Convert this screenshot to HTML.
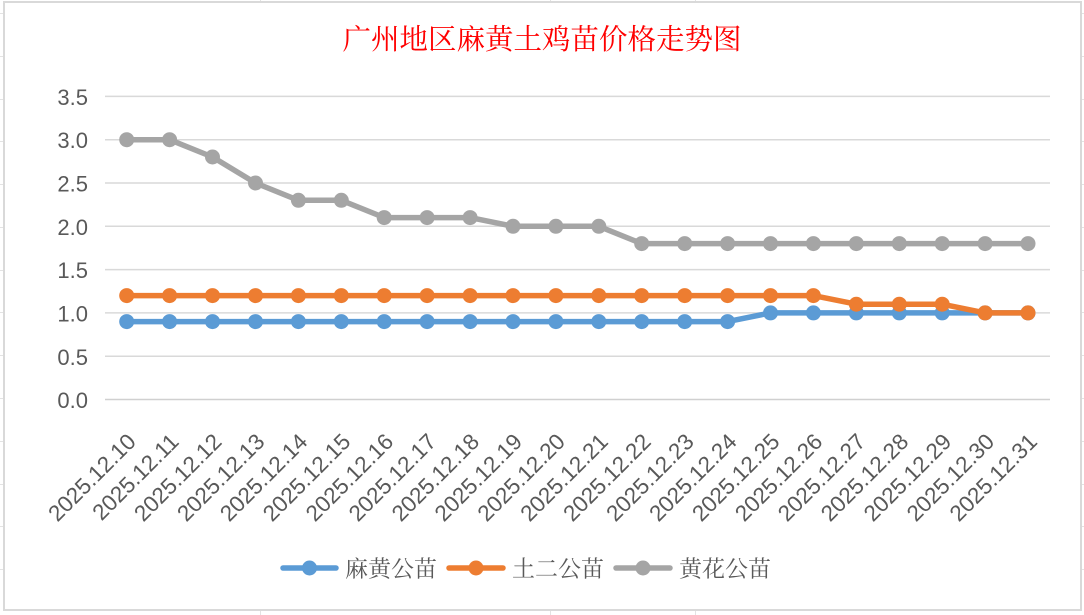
<!DOCTYPE html>
<html>
<head>
<meta charset="utf-8">
<style>
html,body{margin:0;padding:0;background:#fff;}
svg{display:block;}
</style>
</head>
<body>
<svg width="1084" height="615" viewBox="0 0 1084 615" xmlns="http://www.w3.org/2000/svg">
  <rect x="0" y="0" width="1084" height="615" fill="#ffffff"/>
  <!-- spreadsheet gridlines peeking around chart -->
  <g stroke="#e3e3e3" stroke-width="1">
    <line x1="0" y1="13.5" x2="1084" y2="13.5"/>
    <line x1="0" y1="56.5" x2="1084" y2="56.5"/>
    <line x1="0" y1="99.5" x2="1084" y2="99.5"/>
    <line x1="0" y1="141.5" x2="1084" y2="141.5"/>
    <line x1="0" y1="184.5" x2="1084" y2="184.5"/>
    <line x1="0" y1="227.5" x2="1084" y2="227.5"/>
    <line x1="0" y1="270.5" x2="1084" y2="270.5"/>
    <line x1="0" y1="312.5" x2="1084" y2="312.5"/>
    <line x1="0" y1="355.5" x2="1084" y2="355.5"/>
    <line x1="0" y1="398.5" x2="1084" y2="398.5"/>
    <line x1="0" y1="441.5" x2="1084" y2="441.5"/>
    <line x1="0" y1="484.5" x2="1084" y2="484.5"/>
    <line x1="0" y1="526.5" x2="1084" y2="526.5"/>
    <line x1="0" y1="569.5" x2="1084" y2="569.5"/>
    <line x1="260.5" y1="0" x2="260.5" y2="615"/>
    <line x1="550.5" y1="0" x2="550.5" y2="615"/>
    <line x1="695.5" y1="0" x2="695.5" y2="615"/>
  </g>
  <!-- chart area -->
  <rect x="4" y="2" width="1077" height="608" fill="#ffffff" stroke="#d9d9d9" stroke-width="2"/>

  <!-- title -->
  <text x="542" y="49" text-anchor="middle" font-family="'Liberation Serif','Noto Serif CJK SC',serif" font-size="28.5" fill="#ff0000">广州地区麻黄土鸡苗价格走势图</text>

  <!-- gridlines -->
  <g stroke="#d9d9d9" stroke-width="1.5">
    <line x1="105" y1="96.4" x2="1050" y2="96.4"/>
    <line x1="105" y1="139.7" x2="1050" y2="139.7"/>
    <line x1="105" y1="183.0" x2="1050" y2="183.0"/>
    <line x1="105" y1="226.3" x2="1050" y2="226.3"/>
    <line x1="105" y1="269.6" x2="1050" y2="269.6"/>
    <line x1="105" y1="312.9" x2="1050" y2="312.9"/>
    <line x1="105" y1="356.2" x2="1050" y2="356.2"/>
    <line x1="105" y1="399.5" x2="1050" y2="399.5" stroke="#d0d0d0"/>
  </g>

  <!-- y labels -->
  <g font-family="'Liberation Sans',sans-serif" font-size="22" fill="#595959" text-anchor="end">
    <text x="88" y="105">3.5</text>
    <text x="88" y="148">3.0</text>
    <text x="88" y="191.5">2.5</text>
    <text x="88" y="235">2.0</text>
    <text x="88" y="278">1.5</text>
    <text x="88" y="321.5">1.0</text>
    <text x="88" y="365">0.5</text>
    <text x="88" y="408">0.0</text>
  </g>

  <!-- x labels -->
  <g font-family="'Liberation Sans',sans-serif" font-size="22.5" fill="#595959" text-anchor="end">
    <text transform="translate(137.2,443) rotate(-45)">2025.12.10</text>
    <text transform="translate(180.1,443) rotate(-45)">2025.12.11</text>
    <text transform="translate(223.0,443) rotate(-45)">2025.12.12</text>
    <text transform="translate(266.0,443) rotate(-45)">2025.12.13</text>
    <text transform="translate(308.9,443) rotate(-45)">2025.12.14</text>
    <text transform="translate(351.8,443) rotate(-45)">2025.12.15</text>
    <text transform="translate(394.7,443) rotate(-45)">2025.12.16</text>
    <text transform="translate(437.6,443) rotate(-45)">2025.12.17</text>
    <text transform="translate(480.6,443) rotate(-45)">2025.12.18</text>
    <text transform="translate(523.5,443) rotate(-45)">2025.12.19</text>
    <text transform="translate(566.4,443) rotate(-45)">2025.12.20</text>
    <text transform="translate(609.3,443) rotate(-45)">2025.12.21</text>
    <text transform="translate(652.2,443) rotate(-45)">2025.12.22</text>
    <text transform="translate(695.2,443) rotate(-45)">2025.12.23</text>
    <text transform="translate(738.1,443) rotate(-45)">2025.12.24</text>
    <text transform="translate(781.0,443) rotate(-45)">2025.12.25</text>
    <text transform="translate(823.9,443) rotate(-45)">2025.12.26</text>
    <text transform="translate(866.8,443) rotate(-45)">2025.12.27</text>
    <text transform="translate(909.8,443) rotate(-45)">2025.12.28</text>
    <text transform="translate(952.7,443) rotate(-45)">2025.12.29</text>
    <text transform="translate(995.6,443) rotate(-45)">2025.12.30</text>
    <text transform="translate(1038.5,443) rotate(-45)">2025.12.31</text>
  </g>

  <!-- series: 麻黄公苗 (blue) -->
  <g>
    <polyline fill="none" stroke="#5b9bd5" stroke-width="5.5" stroke-linejoin="round" stroke-linecap="round"
      points="126.7,321.6 169.6,321.6 212.5,321.6 255.5,321.6 298.4,321.6 341.3,321.6 384.2,321.6 427.1,321.6 470.1,321.6 513.0,321.6 555.9,321.6 598.8,321.6 641.7,321.6 684.7,321.6 727.6,321.6 770.5,312.9 813.4,312.9 856.3,312.9 899.3,312.9 942.2,312.9 985.1,312.9 1028.0,312.9"/>
    <g fill="#5b9bd5">
      <circle cx="126.7" cy="321.6" r="7.5"/><circle cx="169.6" cy="321.6" r="7.5"/><circle cx="212.5" cy="321.6" r="7.5"/>
      <circle cx="255.5" cy="321.6" r="7.5"/><circle cx="298.4" cy="321.6" r="7.5"/><circle cx="341.3" cy="321.6" r="7.5"/>
      <circle cx="384.2" cy="321.6" r="7.5"/><circle cx="427.1" cy="321.6" r="7.5"/><circle cx="470.1" cy="321.6" r="7.5"/>
      <circle cx="513.0" cy="321.6" r="7.5"/><circle cx="555.9" cy="321.6" r="7.5"/><circle cx="598.8" cy="321.6" r="7.5"/>
      <circle cx="641.7" cy="321.6" r="7.5"/><circle cx="684.7" cy="321.6" r="7.5"/><circle cx="727.6" cy="321.6" r="7.5"/>
      <circle cx="770.5" cy="312.9" r="7.5"/><circle cx="813.4" cy="312.9" r="7.5"/><circle cx="856.3" cy="312.9" r="7.5"/>
      <circle cx="899.3" cy="312.9" r="7.5"/><circle cx="942.2" cy="312.9" r="7.5"/><circle cx="985.1" cy="312.9" r="7.5"/>
      <circle cx="1028.0" cy="312.9" r="7.5"/>
    </g>
  </g>

  <!-- series: 土二公苗 (orange) -->
  <g>
    <polyline fill="none" stroke="#ed7d31" stroke-width="5.5" stroke-linejoin="round" stroke-linecap="round"
      points="126.7,295.6 169.6,295.6 212.5,295.6 255.5,295.6 298.4,295.6 341.3,295.6 384.2,295.6 427.1,295.6 470.1,295.6 513.0,295.6 555.9,295.6 598.8,295.6 641.7,295.6 684.7,295.6 727.6,295.6 770.5,295.6 813.4,295.6 856.3,304.2 899.3,304.2 942.2,304.2 985.1,312.9 1028.0,312.9"/>
    <g fill="#ed7d31">
      <circle cx="126.7" cy="295.6" r="7.5"/><circle cx="169.6" cy="295.6" r="7.5"/><circle cx="212.5" cy="295.6" r="7.5"/>
      <circle cx="255.5" cy="295.6" r="7.5"/><circle cx="298.4" cy="295.6" r="7.5"/><circle cx="341.3" cy="295.6" r="7.5"/>
      <circle cx="384.2" cy="295.6" r="7.5"/><circle cx="427.1" cy="295.6" r="7.5"/><circle cx="470.1" cy="295.6" r="7.5"/>
      <circle cx="513.0" cy="295.6" r="7.5"/><circle cx="555.9" cy="295.6" r="7.5"/><circle cx="598.8" cy="295.6" r="7.5"/>
      <circle cx="641.7" cy="295.6" r="7.5"/><circle cx="684.7" cy="295.6" r="7.5"/><circle cx="727.6" cy="295.6" r="7.5"/>
      <circle cx="770.5" cy="295.6" r="7.5"/><circle cx="813.4" cy="295.6" r="7.5"/><circle cx="856.3" cy="304.2" r="7.5"/>
      <circle cx="899.3" cy="304.2" r="7.5"/><circle cx="942.2" cy="304.2" r="7.5"/><circle cx="985.1" cy="312.9" r="7.5"/>
      <circle cx="1028.0" cy="312.9" r="7.5"/>
    </g>
  </g>

  <!-- series: 黄花公苗 (gray) -->
  <g>
    <polyline fill="none" stroke="#a5a5a5" stroke-width="5.5" stroke-linejoin="round" stroke-linecap="round"
      points="126.7,139.7 169.6,139.7 212.5,157.0 255.5,183.0 298.4,200.3 341.3,200.3 384.2,217.6 427.1,217.6 470.1,217.6 513.0,226.3 555.9,226.3 598.8,226.3 641.7,243.6 684.7,243.6 727.6,243.6 770.5,243.6 813.4,243.6 856.3,243.6 899.3,243.6 942.2,243.6 985.1,243.6 1028.0,243.6"/>
    <g fill="#a5a5a5">
      <circle cx="126.7" cy="139.7" r="7.5"/><circle cx="169.6" cy="139.7" r="7.5"/><circle cx="212.5" cy="157.0" r="7.5"/>
      <circle cx="255.5" cy="183.0" r="7.5"/><circle cx="298.4" cy="200.3" r="7.5"/><circle cx="341.3" cy="200.3" r="7.5"/>
      <circle cx="384.2" cy="217.6" r="7.5"/><circle cx="427.1" cy="217.6" r="7.5"/><circle cx="470.1" cy="217.6" r="7.5"/>
      <circle cx="513.0" cy="226.3" r="7.5"/><circle cx="555.9" cy="226.3" r="7.5"/><circle cx="598.8" cy="226.3" r="7.5"/>
      <circle cx="641.7" cy="243.6" r="7.5"/><circle cx="684.7" cy="243.6" r="7.5"/><circle cx="727.6" cy="243.6" r="7.5"/>
      <circle cx="770.5" cy="243.6" r="7.5"/><circle cx="813.4" cy="243.6" r="7.5"/><circle cx="856.3" cy="243.6" r="7.5"/>
      <circle cx="899.3" cy="243.6" r="7.5"/><circle cx="942.2" cy="243.6" r="7.5"/><circle cx="985.1" cy="243.6" r="7.5"/>
      <circle cx="1028.0" cy="243.6" r="7.5"/>
    </g>
  </g>

  <!-- legend -->
  <g font-family="'Liberation Serif','Noto Serif CJK SC',serif" font-size="23" fill="#595959">
    <line x1="283" y1="568" x2="336" y2="568" stroke="#5b9bd5" stroke-width="5.5" stroke-linecap="round"/>
    <circle cx="309.5" cy="568" r="7.5" fill="#5b9bd5"/>
    <text x="345" y="576.5">麻黄公苗</text>

    <line x1="449" y1="568" x2="503" y2="568" stroke="#ed7d31" stroke-width="5.5" stroke-linecap="round"/>
    <circle cx="476" cy="568" r="7.5" fill="#ed7d31"/>
    <text x="512" y="576.5">土二公苗</text>

    <line x1="616" y1="568" x2="670" y2="568" stroke="#a5a5a5" stroke-width="5.5" stroke-linecap="round"/>
    <circle cx="643" cy="568" r="7.5" fill="#a5a5a5"/>
    <text x="679" y="576.5">黄花公苗</text>
  </g>
</svg>
</body>
</html>
